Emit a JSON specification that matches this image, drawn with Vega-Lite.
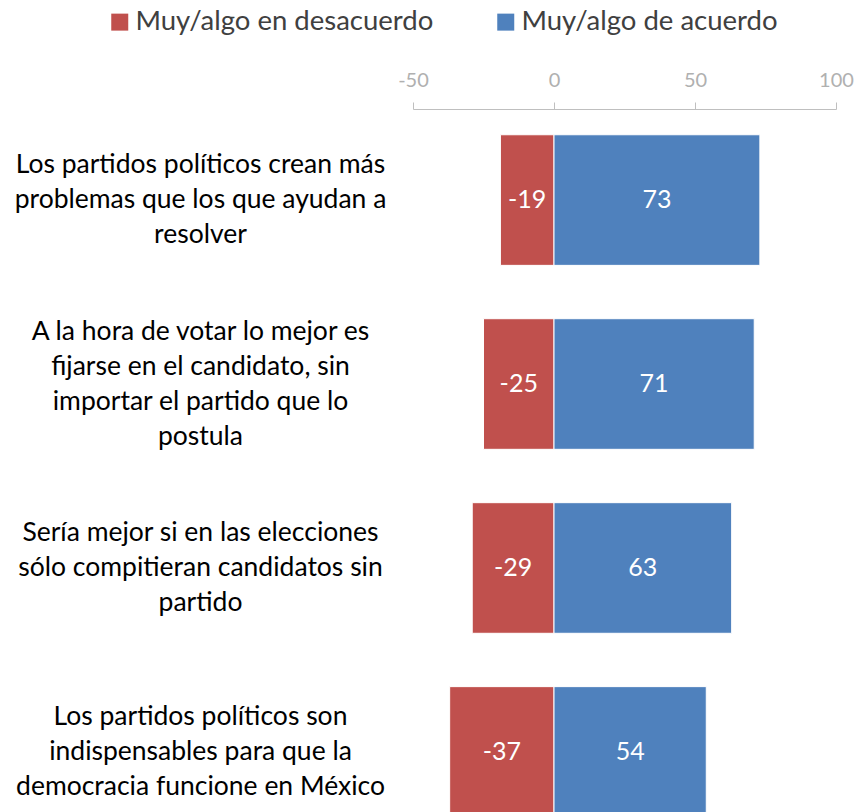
{
  "$schema": "https://vega.github.io/schema/vega-lite/v6.json",
  "autosize": {"type": "none"},
  "padding": {"left": 413, "top": 109, "right": 22, "bottom": 0},
  "width": 423,
  "height": 734,
  "background": "white",
  "config": {"view": {"stroke": null}, "font": "Lato"},
  "data": {
    "values": [
      {"item": "Los partidos políticos crean más|problemas que los que ayudan a|resolver", "serie": "Muy/algo en desacuerdo", "value": -19},
      {"item": "Los partidos políticos crean más|problemas que los que ayudan a|resolver", "serie": "Muy/algo de acuerdo", "value": 73},
      {"item": "A la hora de votar lo mejor es|fijarse en el candidato, sin|importar el partido que lo|postula", "serie": "Muy/algo en desacuerdo", "value": -25},
      {"item": "A la hora de votar lo mejor es|fijarse en el candidato, sin|importar el partido que lo|postula", "serie": "Muy/algo de acuerdo", "value": 71},
      {"item": "Sería mejor si en las elecciones|sólo compitieran candidatos sin|partido", "serie": "Muy/algo en desacuerdo", "value": -29},
      {"item": "Sería mejor si en las elecciones|sólo compitieran candidatos sin|partido", "serie": "Muy/algo de acuerdo", "value": 63},
      {"item": "Los partidos políticos son|indispensables para que la|democracia funcione en México", "serie": "Muy/algo en desacuerdo", "value": -37},
      {"item": "Los partidos políticos son|indispensables para que la|democracia funcione en México", "serie": "Muy/algo de acuerdo", "value": 54}
    ]
  },
  "encoding": {
    "y": {
      "field": "item",
      "type": "nominal",
      "sort": null,
      "scale": {"paddingInner": 0.29, "paddingOuter": 0.14},
      "axis": {
        "title": null,
        "domain": false,
        "ticks": false,
        "labelAlign": "center",
        "labelBaseline": "middle",
        "labelPadding": 213,
        "labelFontSize": 26.5,
        "labelColor": "#000000",
        "labelLineHeight": 35,
        "labelLimit": 0,
        "labelOffset": {"condition": {"test": "length(split(datum.label, '|')) == 4", "value": -52.5}, "value": -35},
        "labelExpr": "split(datum.label, '|')"
      }
    }
  },
  "layer": [
    {
      "mark": {"type": "bar", "stroke": "white", "strokeWidth": 1},
      "encoding": {
        "x": {
          "field": "value",
          "type": "quantitative",
          "stack": "zero",
          "scale": {"domain": [-50, 100], "nice": false},
          "axis": {
            "orient": "top",
            "title": null,
            "values": [-50, 0, 50, 100],
            "grid": false,
            "domainColor": "#bfbfbf",
            "tickColor": "#bfbfbf",
            "tickSize": 7,
            "labelColor": "#b0b0b0",
            "labelFontSize": 20,
            "labelPadding": 12,
            "labelFlush": false,
            "labelExpr": "'' + datum.value"
          }
        },
        "color": {
          "field": "serie",
          "type": "nominal",
          "scale": {"domain": ["Muy/algo en desacuerdo", "Muy/algo de acuerdo"], "range": ["#C0504D", "#4F81BD"]},
          "legend": {
            "title": null,
            "orient": "none",
            "legendX": -307,
            "legendY": -101,
            "direction": "horizontal",
            "symbolType": "square",
            "symbolSize": 289,
            "symbolStrokeWidth": 0,
            "symbolOpacity": 1,
            "labelFontSize": 27.5,
            "labelColor": "#404040",
            "labelOffset": 2,
            "labelLimit": 0,
            "columnPadding": 58
          }
        }
      }
    },
    {
      "mark": {"type": "text", "color": "white", "fontSize": 25, "baseline": "middle", "align": "center"},
      "encoding": {
        "x": {"field": "value", "type": "quantitative", "stack": "zero", "bandPosition": 0.5},
        "detail": {"field": "serie"},
        "text": {"field": "value", "type": "nominal"}
      }
    }
  ]
}
